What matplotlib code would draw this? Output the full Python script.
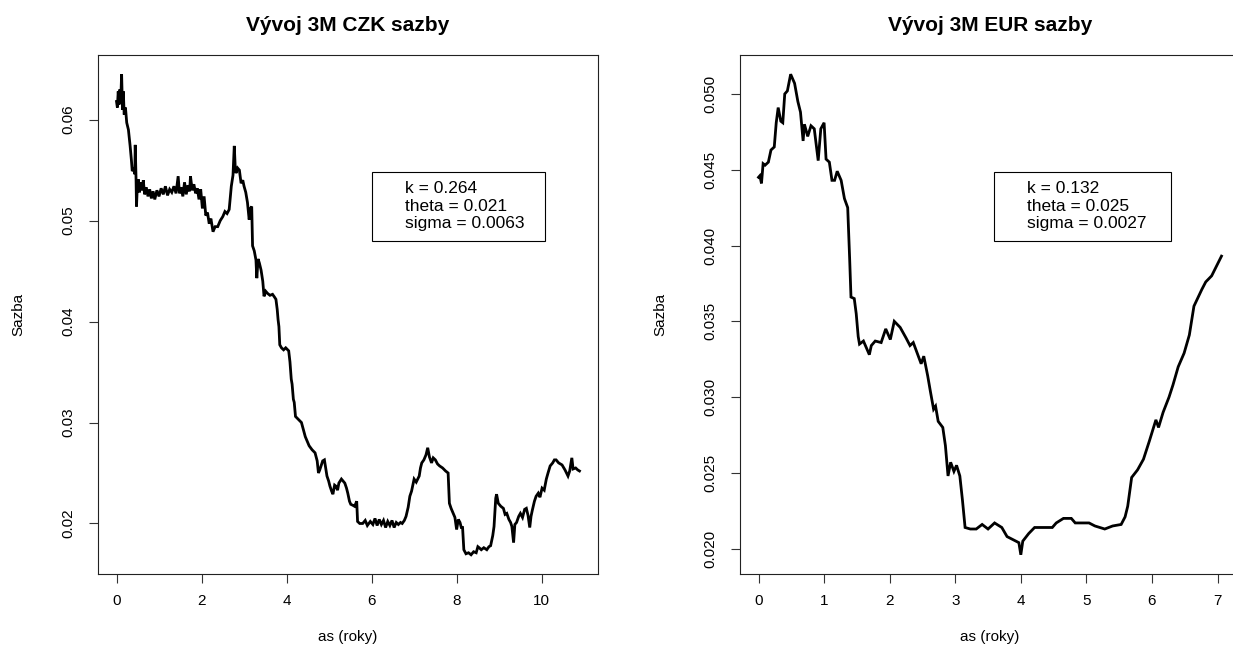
import matplotlib
matplotlib.use("Agg")
import matplotlib.pyplot as plt
from matplotlib.patches import Rectangle

plt.rcParams['font.family'] = ['Liberation Sans', 'DejaVu Sans']

# ---------------- data ----------------
czk_t = [0.00, 0.02, 0.04, 0.06, 0.08, 0.10, 0.12, 0.14, 0.16, 0.18, 0.21, 0.24, 0.28, 0.32,
         0.35, 0.37, 0.40, 0.43, 0.44, 0.46, 0.47, 0.49, 0.51, 0.54, 0.57, 0.60, 0.63, 0.66,
         0.70, 0.74, 0.78, 0.82, 0.86, 0.90, 0.95, 1.00, 1.05, 1.10, 1.15, 1.20, 1.25, 1.30,
         1.35, 1.40, 1.45, 1.48, 1.52, 1.56, 1.60, 1.64, 1.68, 1.72, 1.74, 1.78, 1.82, 1.86,
         1.90, 1.94, 1.98, 2.02, 2.06, 2.10, 2.14, 2.18, 2.22, 2.27, 2.32, 2.38, 2.44, 2.50,
         2.55, 2.60, 2.65, 2.70, 2.74, 2.77, 2.79, 2.81, 2.85, 2.89, 2.93, 2.97, 3.00, 3.04,
         3.08, 3.12, 3.15, 3.18, 3.20, 3.24, 3.28, 3.30, 3.33, 3.36, 3.40, 3.44, 3.47, 3.51,
         3.55, 3.61, 3.67, 3.72, 3.75, 3.78, 3.80, 3.82, 3.84, 3.88, 3.93, 3.98, 4.05, 4.08,
         4.11, 4.13, 4.16, 4.18, 4.21, 4.28, 4.35, 4.40, 4.44, 4.49, 4.53, 4.60, 4.67, 4.72,
         4.75, 4.78, 4.81, 4.85, 4.89, 4.92, 4.95, 4.99, 5.02, 5.06, 5.09, 5.13, 5.16, 5.20,
         5.23, 5.29, 5.33, 5.37, 5.41, 5.44, 5.48, 5.51, 5.56, 5.60, 5.65, 5.67, 5.72, 5.79,
         5.85, 5.90, 5.97, 6.03, 6.08, 6.13, 6.18, 6.23, 6.28, 6.33, 6.38, 6.43, 6.48, 6.53,
         6.58, 6.63, 6.68, 6.72, 6.77, 6.81, 6.86, 6.90, 6.94, 7.00, 7.05, 7.12, 7.15, 7.18,
         7.23, 7.28, 7.32, 7.36, 7.41, 7.45, 7.50, 7.55, 7.60, 7.67, 7.74, 7.80, 7.83, 7.87,
         7.92, 7.96, 8.00, 8.04, 8.08, 8.11, 8.14, 8.17, 8.22, 8.28, 8.34, 8.40, 8.46, 8.50,
         8.53, 8.58, 8.64, 8.71, 8.76, 8.80, 8.85, 8.88, 8.92, 8.94, 8.98, 9.04, 9.10, 9.14,
         9.18, 9.23, 9.27, 9.30, 9.34, 9.37, 9.41, 9.46, 9.50, 9.55, 9.60, 9.64, 9.68, 9.72,
         9.75, 9.78, 9.83, 9.87, 9.92, 9.96, 10.01, 10.06, 10.11, 10.15, 10.20, 10.26, 10.30,
         10.34, 10.40, 10.48, 10.55, 10.62, 10.66, 10.71, 10.74, 10.80, 10.85, 10.89]
czk_rate = [0.0618, 0.0612, 0.0628, 0.0615, 0.0630, 0.0620, 0.0645, 0.0610, 0.0628, 0.0605,
            0.0612, 0.0597, 0.0590, 0.0574, 0.0560, 0.0549, 0.0552, 0.0546, 0.0575, 0.0540,
            0.0514, 0.0535, 0.0541, 0.0528, 0.0538, 0.0530, 0.0540, 0.0526, 0.0533, 0.0524,
            0.0531, 0.0522, 0.0529, 0.0521, 0.0530, 0.0524, 0.0532, 0.0526, 0.0534, 0.0525,
            0.0531, 0.0528, 0.0534, 0.0527, 0.0544, 0.0527, 0.0533, 0.0524, 0.0538, 0.0526,
            0.0535, 0.0529, 0.0544, 0.0530, 0.0536, 0.0527, 0.0532, 0.0521, 0.0531, 0.0512,
            0.0524, 0.0505, 0.0508, 0.0497, 0.0502, 0.0489, 0.0494, 0.0494, 0.0500, 0.0504,
            0.0509, 0.0507, 0.0511, 0.0534, 0.0545, 0.0574, 0.0555, 0.0547, 0.0552, 0.0550,
            0.0537, 0.0540, 0.0534, 0.0528, 0.0518, 0.0501, 0.0512, 0.0514, 0.0475, 0.0470,
            0.0461, 0.0443, 0.0462, 0.0458, 0.0451, 0.0440, 0.0425, 0.0430, 0.0428, 0.0426,
            0.0427, 0.0424, 0.0422, 0.0412, 0.0402, 0.0395, 0.0377, 0.0374, 0.0372, 0.0374,
            0.0371, 0.0360, 0.0343, 0.0338, 0.0323, 0.0320, 0.0306, 0.0303, 0.0300, 0.0292,
            0.0286, 0.0281, 0.0277, 0.0273, 0.0270, 0.0262, 0.0250, 0.0253, 0.0257, 0.0262,
            0.0263, 0.0255, 0.0247, 0.0242, 0.0237, 0.0232, 0.0229, 0.0238, 0.0237, 0.0233,
            0.0240, 0.0244, 0.0242, 0.0240, 0.0235, 0.0230, 0.0222, 0.0219, 0.0218, 0.0217,
            0.0222, 0.0202, 0.0200, 0.0200, 0.0203, 0.0198, 0.0202, 0.0199, 0.0205, 0.0198,
            0.0204, 0.0199, 0.0203, 0.0196, 0.0202, 0.0198, 0.0203, 0.0196, 0.0201, 0.0199,
            0.0201, 0.0200, 0.0203, 0.0207, 0.0216, 0.0227, 0.0232, 0.0244, 0.0241, 0.0247,
            0.0255, 0.0260, 0.0263, 0.0268, 0.0275, 0.0266, 0.0260, 0.0265, 0.0263, 0.0259,
            0.0257, 0.0255, 0.0252, 0.0250, 0.0220, 0.0215, 0.0210, 0.0206, 0.0194, 0.0204,
            0.0201, 0.0196, 0.0196, 0.0174, 0.0170, 0.0171, 0.0169, 0.0172, 0.0171, 0.0177,
            0.0176, 0.0174, 0.0176, 0.0174, 0.0177, 0.0178, 0.0188, 0.0197, 0.0225, 0.0229,
            0.0220, 0.0217, 0.0215, 0.0209, 0.0210, 0.0204, 0.0201, 0.0197, 0.0181, 0.0199,
            0.0201, 0.0207, 0.0210, 0.0206, 0.0214, 0.0215, 0.0208, 0.0196, 0.0207, 0.0213,
            0.0222, 0.0227, 0.0230, 0.0226, 0.0235, 0.0233, 0.0244, 0.0250, 0.0257, 0.0260,
            0.0263, 0.0263, 0.0260, 0.0258, 0.0253, 0.0247, 0.0252, 0.0265, 0.0254, 0.0255,
            0.0253, 0.0252]

eur_t = [0.00, 0.02, 0.045, 0.07, 0.10, 0.15, 0.19, 0.24, 0.27, 0.30, 0.34, 0.37, 0.40, 0.44,
         0.49, 0.55, 0.60, 0.64, 0.68, 0.70, 0.75, 0.80, 0.85, 0.91, 0.95, 1.00, 1.03, 1.08,
         1.12, 1.16, 1.20, 1.26, 1.31, 1.36, 1.39, 1.41, 1.46, 1.49, 1.52, 1.54, 1.60, 1.69,
         1.72, 1.78, 1.87, 1.94, 2.01, 2.07, 2.16, 2.25, 2.31, 2.36, 2.42, 2.48, 2.52, 2.58,
         2.62, 2.67, 2.70, 2.74, 2.81, 2.85, 2.89, 2.93, 2.98, 3.02, 3.07, 3.11, 3.15, 3.23,
         3.32, 3.41, 3.50, 3.60, 3.71, 3.79, 3.88, 3.97, 4.00, 4.03, 4.12, 4.21, 4.33, 4.48,
         4.54, 4.65, 4.77, 4.83, 5.04, 5.13, 5.28, 5.40, 5.53, 5.59, 5.63, 5.69, 5.78, 5.87,
         5.96, 6.06, 6.10, 6.17, 6.26, 6.32, 6.40, 6.49, 6.57, 6.64, 6.76, 6.82, 6.91, 7.06]
eur_rate = [0.0445, 0.0446, 0.0441, 0.0454, 0.0453, 0.0455, 0.0463, 0.0465, 0.0481, 0.0491,
            0.0482, 0.0481, 0.0500, 0.0502, 0.0513, 0.0507, 0.0495, 0.0488, 0.0469, 0.0480,
            0.0472, 0.0479, 0.0477, 0.0456, 0.0477, 0.0481, 0.0457, 0.0455, 0.0443, 0.0443,
            0.0449, 0.0443, 0.0431, 0.0425, 0.0391, 0.0366, 0.0365, 0.0355, 0.0340, 0.0335,
            0.0337, 0.0328, 0.0334, 0.0337, 0.0336, 0.0345, 0.0338, 0.0350, 0.0346, 0.0339,
            0.0334, 0.0336, 0.0329, 0.0322, 0.0327, 0.0314, 0.0304, 0.0292, 0.0294, 0.0284,
            0.0280, 0.0268, 0.0248, 0.0257, 0.0251, 0.0255, 0.0248, 0.0232, 0.0214, 0.0213,
            0.0213, 0.0216, 0.0213, 0.0217, 0.0214, 0.0208, 0.0206, 0.0204, 0.0196, 0.0205,
            0.0210, 0.0214, 0.0214, 0.0214, 0.0217, 0.0220, 0.0220, 0.0217, 0.0217, 0.0215,
            0.0213, 0.0215, 0.0216, 0.0221, 0.0228, 0.0247, 0.0252, 0.0259, 0.0271, 0.0285,
            0.0280, 0.0290, 0.0300, 0.0308, 0.0320, 0.0329, 0.0341, 0.0360, 0.0371, 0.0376,
            0.0380, 0.0393]

titles = ["Vývoj 3M CZK sazby", "Vývoj 3M EUR sazby"]
x_label = "as (roky)"
y_label = "Sazba"
czk_params = ["k = 0.264", "theta = 0.021", "sigma = 0.0063"]
eur_params = ["k = 0.132", "theta = 0.025", "sigma = 0.0027"]
czk_xticks = [0, 2, 4, 6, 8, 10]
czk_yticks = [0.02, 0.03, 0.04, 0.05, 0.06]
eur_xticks = [0, 1, 2, 3, 4, 5, 6, 7]
eur_yticks = [0.020, 0.025, 0.030, 0.035, 0.040, 0.045, 0.050]

# ---------------- figure ----------------
W, H = 1233, 646
fig = plt.figure(figsize=(W / 100, H / 100), dpi=100)

def box(l, r, t, b):
    return [l / W, 1 - b / H, (r - l) / W, (b - t) / H]

ax1 = fig.add_axes(box(98, 598, 55, 574))
ax2 = fig.add_axes(box(740, 1240, 55, 574))

TICK_FS = 11
panels = [
    (ax1, czk_t, czk_rate, titles[0], czk_params, czk_xticks, czk_yticks, "{:.2f}", 0.548, 0.894),
    (ax2, eur_t, eur_rate, titles[1], eur_params, eur_xticks, eur_yticks, "{:.3f}", 0.508, 0.862),
]

for ax, t, r, title, params, xt, yt, fmt, bx0, bx1 in panels:
    ax.plot(t, r, color='black', lw=2.0, solid_joinstyle='miter')
    ax.margins(x=0.04, y=0.04)
    ax.set_xticks(xt)
    ax.set_xticklabels([str(v) for v in xt], fontsize=TICK_FS)
    ax.set_yticks(yt)
    ax.set_yticklabels([fmt.format(v) for v in yt], fontsize=TICK_FS,
                       rotation=90, va='center')
    ax.tick_params(axis='both', direction='out', length=6.5, width=0.8, color='#333333')
    ax.tick_params(axis='x', pad=8)
    ax.tick_params(axis='y', pad=10)
    for s in ax.spines.values():
        s.set_linewidth(0.8)
        s.set_color('#222222')
    ax.set_title(title, fontsize=15, fontweight='bold', y=1 + 30 / 519, va='center', pad=0)
    ax.set_xlabel(x_label, fontsize=11, va='center')
    ax.set_ylabel(y_label, fontsize=11, va='center')
    ax.xaxis.set_label_coords(0.5, -63 / 519)
    ax.yaxis.set_label_coords(-80 / 500, 0.5)
    # parameter box
    rect = Rectangle((bx0, 1 - 186 / 519), bx1 - bx0, 69 / 519, transform=ax.transAxes,
                     fill=False, edgecolor='black', lw=0.8)
    ax.add_patch(rect)
    ax.text(bx0 + 0.066, 1 - 151 / 519, "\n".join(params), transform=ax.transAxes,
            fontsize=12.5, va='center', ha='left', linespacing=1.2)

fig.savefig("out.png", dpi=100)
